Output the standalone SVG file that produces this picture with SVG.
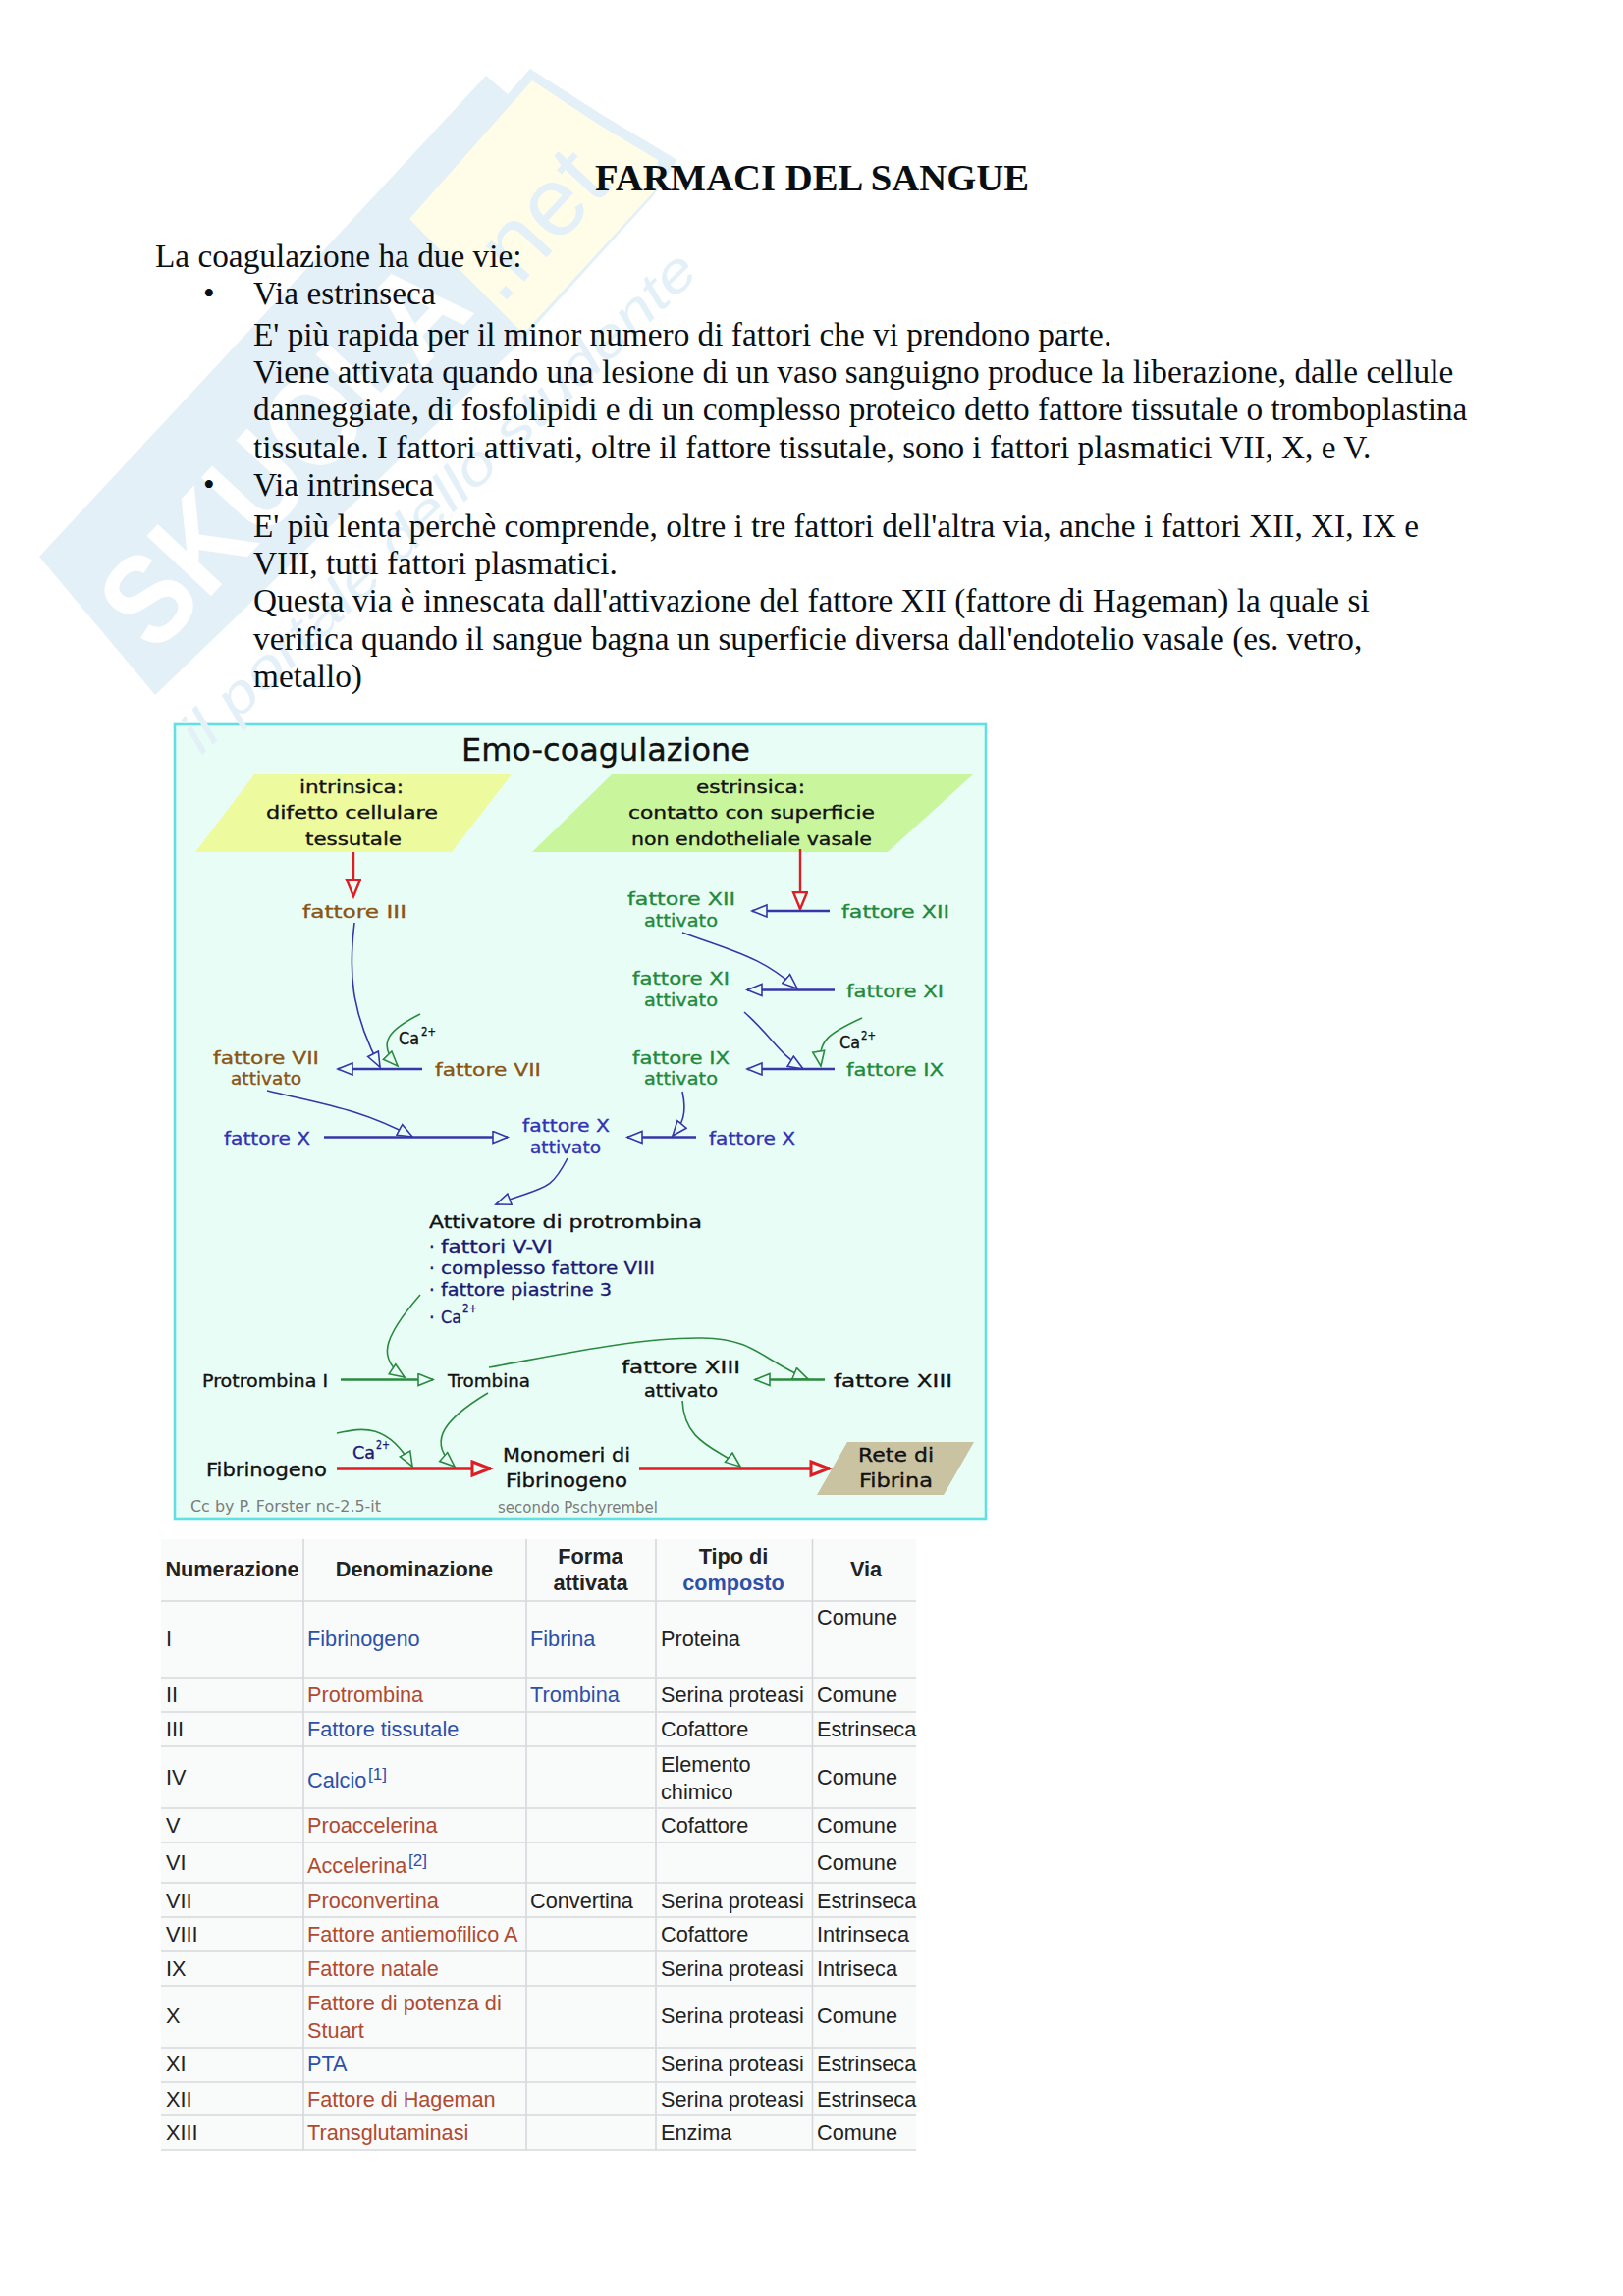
<svg xmlns="http://www.w3.org/2000/svg" width="1653" height="2339" viewBox="0 0 1653 2339">
<style>
.p{font-family:"Liberation Serif","Times New Roman",serif;font-size:33.3px;fill:#0a0f14}
.h{font-family:"Liberation Serif","Times New Roman",serif;font-size:38.9px;font-weight:700;fill:#0a0f14}
.d{font-family:"DejaVu Sans",sans-serif;font-size:18px;stroke-width:.35px}
.k{fill:#111;stroke:#111}.br{fill:#8a5514;stroke:#8a5514}.gr{fill:#1f8a3c;stroke:#1f8a3c}.bl{fill:#3232b4;stroke:#3232b4}.nv{fill:#1a1a72;stroke:#1a1a72}.gy{fill:#7c7c7c}
.bg{font-size:20px}
.sup{font-size:12px}
.t{font-family:"Liberation Sans",Arial,sans-serif;font-size:21.7px;fill:#222}
.th{font-weight:700;text-anchor:middle}
.lb{fill:#2d50a8}.lr{fill:#b04a30}
.c{fill:none;stroke-width:1.6}
.cb{stroke:#3636a8;marker-end:url(#mb)}
.cg{stroke:#2a8a40;marker-end:url(#mg)}
.s{stroke-width:2.6}
.cr{stroke:#e01c24;stroke-width:2.4;marker-end:url(#mr)}
.crb{stroke:#e01c24;stroke-width:3.4;marker-end:url(#mrb)}
.g{stroke:#d6d9dc;stroke-width:1.6;fill:none}
.w{font-family:"Liberation Sans",Arial,sans-serif}
</style>
<defs>
<marker id="mb" markerUnits="userSpaceOnUse" markerWidth="20" markerHeight="16" refX="16" refY="7" orient="auto"><path d="M1 1L16 7L1 13Z" fill="#e9fdf7" stroke="#3636a8" stroke-width="1.6"/></marker>
<marker id="mg" markerUnits="userSpaceOnUse" markerWidth="20" markerHeight="16" refX="16" refY="7" orient="auto"><path d="M1 1L16 7L1 13Z" fill="#e9fdf7" stroke="#2a8a40" stroke-width="1.6"/></marker>
<marker id="mr" markerUnits="userSpaceOnUse" markerWidth="22" markerHeight="20" refX="18" refY="8" orient="auto"><path d="M1 1L18 8L1 15Z" fill="#e9fdf7" stroke="#e01c24" stroke-width="2.4"/></marker>
<marker id="mrb" markerUnits="userSpaceOnUse" markerWidth="26" markerHeight="22" refX="21" refY="9" orient="auto"><path d="M2 2L20 9L2 16Z" fill="#e9fdf7" stroke="#e01c24" stroke-width="3"/></marker>
</defs>
<rect width="1653" height="2339" fill="#fff"/>
<g id="diagram-frame"><rect x="178" y="738" width="826" height="809" fill="#e9fdf7" stroke="#62dfe2" stroke-width="2.6"/></g>
<g id="watermark">
<path d="M40 567L495 77L517 96L540 70L615 118L690 163L665 200L527 352L158 708Z" fill="#e4f0f8"/>
<path d="M542 82L610 127L670 163L668 193L533 340L417 223Z" fill="#fffde8"/>
<text class="w" transform="translate(158 668) rotate(-47)" style="font-size:130px;font-weight:700" fill="#fff" textLength="480" lengthAdjust="spacingAndGlyphs">SKUOLA</text>
<text class="w" transform="translate(510 312) rotate(-47)" style="font-size:100px" fill="#e4f0f8">.net</text>
<text class="w" transform="translate(205 770) rotate(-44)" style="font-size:56px;font-style:italic" fill="#e4f0f8" textLength="707" lengthAdjust="spacingAndGlyphs">il portale dello studente</text>
</g>
<g id="page-text">
<text class="h" x="606" y="194" textLength="442" lengthAdjust="spacingAndGlyphs">FARMACI DEL SANGUE</text>
<text class="p" x="158" y="272">La coagulazione ha due vie:</text>
<text class="p" x="207" y="310">•</text>
<text class="p" x="258" y="310">Via estrinseca</text>
<text class="p" x="258" y="352">E' più rapida per il minor numero di fattori che vi prendono parte.</text>
<text class="p" x="258" y="390">Viene attivata quando una lesione di un vaso sanguigno produce la liberazione, dalle cellule</text>
<text class="p" x="258" y="428">danneggiate, di fosfolipidi e di un complesso proteico detto fattore tissutale o tromboplastina</text>
<text class="p" x="258" y="467">tissutale. I fattori attivati, oltre il fattore tissutale, sono i fattori plasmatici VII, X, e V.</text>
<text class="p" x="207" y="505">•</text>
<text class="p" x="258" y="505">Via intrinseca</text>
<text class="p" x="258" y="547">E' più lenta perchè comprende, oltre i tre fattori dell'altra via, anche i fattori XII, XI, IX e</text>
<text class="p" x="258" y="585">VIII, tutti fattori plasmatici.</text>
<text class="p" x="258" y="623">Questa via è innescata dall'attivazione del fattore XII (fattore di Hageman) la quale si</text>
<text class="p" x="258" y="662">verifica quando il sangue bagna un superficie diversa dall'endotelio vasale (es. vetro,</text>
<text class="p" x="258" y="700">metallo)</text>
</g>
<g id="shapes">
<path id="box-intrinsica" d="M259 789H521L460 868H199Z" fill="#edfa9e"/>
<path id="box-estrinsica" d="M623 789H991L904 868H542Z" fill="#c9f59c"/>
<path id="box-rete" d="M863 1469H992L961 1523H832Z" fill="#c9c3a2"/>
</g>
<g id="connectors">
<path class="c cr" d="M360 868V913"/>
<path class="c cr" d="M815 865V926"/>
<path class="c cb" d="M361 940C355 990 357 1030 387 1087"/>
<path class="c cg" d="M428 1033C398 1048 382 1062 405 1086"/>
<path class="c cb s" d="M430 1089H344"/>
<path class="c cb" d="M272 1111C330 1125 368 1130 420 1158"/>
<path class="c cb s" d="M330 1158.500H517"/>
<path class="c cb s" d="M709 1158.500H639"/>
<path class="c cb" d="M695 1112C700 1135 695 1145 685 1157"/>
<path class="c cb s" d="M845 928H766"/>
<path class="c cb" d="M695 950C755 972 775 975 812 1007"/>
<path class="c cb s" d="M850 1008.500H761"/>
<path class="c cb" d="M758 1031C785 1055 795 1075 818 1089"/>
<path class="c cb s" d="M850 1089H761"/>
<path class="c cg" d="M878 1037C845 1052 832 1060 836 1086"/>
<path class="c cb" d="M578 1180C560 1215 555 1208 505 1227"/>
<path class="c cg" d="M428 1319C388 1365 385 1385 412 1403"/>
<path class="c cg s" d="M347 1405.500H441"/>
<path class="c cg" d="M498 1393C560 1382 650 1362 715 1363C770 1364 775 1385 823 1405"/>
<path class="c cg s" d="M840 1405.500H769"/>
<path class="c cg" d="M497 1419C445 1450 438 1472 463 1494"/>
<path class="c cg" d="M343 1460C370 1454 395 1450 420 1494"/>
<path class="c crb" d="M343 1496H500"/>
<path class="c crb" d="M651 1496H845"/>
<path class="c cg" d="M695 1427C697 1470 730 1475 754 1494"/>
</g>
<g id="nodes" transform="translate(0 1)">
<g id="n-title"><text class="d k" style="font-size:32px" x="470" y="774" textLength="294" lengthAdjust="spacingAndGlyphs">Emo-coagulazione</text></g>
<g id="n-intrinsica">
<text class="d k" x="305" y="807" textLength="106" lengthAdjust="spacingAndGlyphs">intrinsica:</text>
<text class="d k" x="271" y="833" textLength="175" lengthAdjust="spacingAndGlyphs">difetto cellulare</text>
<text class="d k" x="311" y="860" textLength="98" lengthAdjust="spacingAndGlyphs">tessutale</text>
</g>
<g id="n-estrinsica">
<text class="d k" x="709" y="807" textLength="111" lengthAdjust="spacingAndGlyphs">estrinsica:</text>
<text class="d k" x="640" y="833" textLength="251" lengthAdjust="spacingAndGlyphs">contatto con superficie</text>
<text class="d k" x="643" y="860" textLength="245" lengthAdjust="spacingAndGlyphs">non endotheliale vasale</text>
</g>
<g id="n-f3"><text class="d br" x="308" y="934" textLength="106" lengthAdjust="spacingAndGlyphs">fattore III</text></g>
<g id="n-f7a"><text class="d br" x="217" y="1083" textLength="108" lengthAdjust="spacingAndGlyphs">fattore VII</text><text class="d br" x="235" y="1104" textLength="72" lengthAdjust="spacingAndGlyphs">attivato</text></g>
<g id="n-f7"><text class="d br" x="443" y="1095" textLength="108" lengthAdjust="spacingAndGlyphs">fattore VII</text></g>
<g id="n-ca1"><text class="d k" x="406" y="1063" textLength="21" lengthAdjust="spacingAndGlyphs">Ca</text><text class="d k sup" x="429" y="1054" textLength="15" lengthAdjust="spacingAndGlyphs">2+</text></g>
<g id="n-f10l"><text class="d bl" x="228" y="1165" textLength="88" lengthAdjust="spacingAndGlyphs">fattore X</text></g>
<g id="n-f10a"><text class="d bl" x="532" y="1152" textLength="89" lengthAdjust="spacingAndGlyphs">fattore X</text><text class="d bl" x="540" y="1174" textLength="72" lengthAdjust="spacingAndGlyphs">attivato</text></g>
<g id="n-f10r"><text class="d bl" x="722" y="1165" textLength="88" lengthAdjust="spacingAndGlyphs">fattore X</text></g>
<g id="n-f12a"><text class="d gr" x="639" y="921" textLength="110" lengthAdjust="spacingAndGlyphs">fattore XII</text><text class="d gr" x="656" y="943" textLength="75" lengthAdjust="spacingAndGlyphs">attivato</text></g>
<g id="n-f12"><text class="d gr" x="857" y="934" textLength="110" lengthAdjust="spacingAndGlyphs">fattore XII</text></g>
<g id="n-f11a"><text class="d gr" x="644" y="1002" textLength="99" lengthAdjust="spacingAndGlyphs">fattore XI</text><text class="d gr" x="656" y="1024" textLength="75" lengthAdjust="spacingAndGlyphs">attivato</text></g>
<g id="n-f11"><text class="d gr" x="862" y="1015" textLength="99" lengthAdjust="spacingAndGlyphs">fattore XI</text></g>
<g id="n-ca2"><text class="d k" x="855" y="1067" textLength="21" lengthAdjust="spacingAndGlyphs">Ca</text><text class="d k sup" x="877" y="1058" textLength="15" lengthAdjust="spacingAndGlyphs">2+</text></g>
<g id="n-f9a"><text class="d gr" x="644" y="1083" textLength="99" lengthAdjust="spacingAndGlyphs">fattore IX</text><text class="d gr" x="656" y="1104" textLength="75" lengthAdjust="spacingAndGlyphs">attivato</text></g>
<g id="n-f9"><text class="d gr" x="862" y="1095" textLength="99" lengthAdjust="spacingAndGlyphs">fattore IX</text></g>
<g id="n-attivatore">
<text class="d k" x="437" y="1250" textLength="278" lengthAdjust="spacingAndGlyphs">Attivatore di protrombina</text>
<text class="d nv" x="437" y="1275">·</text><text class="d nv" x="449" y="1275" textLength="114" lengthAdjust="spacingAndGlyphs">fattori V-VI</text>
<text class="d nv" x="437" y="1297">·</text><text class="d nv" x="449" y="1297" textLength="218" lengthAdjust="spacingAndGlyphs">complesso fattore VIII</text>
<text class="d nv" x="437" y="1319">·</text><text class="d nv" x="449" y="1319" textLength="174" lengthAdjust="spacingAndGlyphs">fattore piastrine 3</text>
<text class="d nv" x="437" y="1347">·</text><text class="d nv" x="449" y="1347" textLength="21" lengthAdjust="spacingAndGlyphs">Ca</text><text class="d nv sup" x="471" y="1336" textLength="15" lengthAdjust="spacingAndGlyphs">2+</text>
</g>
<g id="n-protrombina"><text class="d k" x="206" y="1412" textLength="128" lengthAdjust="spacingAndGlyphs">Protrombina I</text></g>
<g id="n-trombina"><text class="d k" x="456" y="1412" textLength="84" lengthAdjust="spacingAndGlyphs">Trombina</text></g>
<g id="n-f13a"><text class="d k" x="633" y="1398" textLength="121" lengthAdjust="spacingAndGlyphs">fattore XIII</text><text class="d k" x="656" y="1422" textLength="75" lengthAdjust="spacingAndGlyphs">attivato</text></g>
<g id="n-f13"><text class="d k" x="849" y="1412" textLength="121" lengthAdjust="spacingAndGlyphs">fattore XIII</text></g>
<g id="n-ca3"><text class="d nv" x="359" y="1485" textLength="23" lengthAdjust="spacingAndGlyphs">Ca</text><text class="d nv sup" x="383" y="1475" textLength="14" lengthAdjust="spacingAndGlyphs">2+</text></g>
<g id="n-fibrinogeno"><text class="d bg k" x="210" y="1503" textLength="123" lengthAdjust="spacingAndGlyphs">Fibrinogeno</text></g>
<g id="n-monomeri"><text class="d bg k" x="512" y="1488" textLength="130" lengthAdjust="spacingAndGlyphs">Monomeri di</text><text class="d bg k" x="515" y="1514" textLength="124" lengthAdjust="spacingAndGlyphs">Fibrinogeno</text></g>
<g id="n-rete"><text class="d bg k" x="874" y="1488" textLength="77" lengthAdjust="spacingAndGlyphs">Rete di</text><text class="d bg k" x="875" y="1514" textLength="75" lengthAdjust="spacingAndGlyphs">Fibrina</text></g>
<g id="n-credit"><text class="d gy" style="font-size:15px" x="194" y="1539" textLength="194" lengthAdjust="spacingAndGlyphs">Cc by P. Forster nc-2.5-it</text><text class="d gy" style="font-size:15px" x="507" y="1540" textLength="163" lengthAdjust="spacingAndGlyphs">secondo Pschyrembel</text></g>
</g>
<g id="table">
<rect x="164" y="1568" width="769" height="622" fill="#f9fafa"/>
<path class="g" d="M309 1568V2190M536 1568V2190M668 1568V2190M827.500 1568V2190"/>
<path class="g" d="M164 1631H933M164 1709H933M164 1744H933M164 1779H933M164 1842H933M164 1877H933M164 1918H933M164 1953H933M164 1988H933M164 2023H933M164 2086H933M164 2121H933M164 2155H933M164 2190H933"/>
<g transform="translate(0 1)">
<text class="t th" x="236.500" y="1605">Numerazione</text>
<text class="t th" x="422" y="1605">Denominazione</text>
<text class="t th" x="601.500" y="1592">Forma</text><text class="t th" x="601.500" y="1619">attivata</text>
<text class="t th" x="747" y="1592">Tipo di</text><text class="t th lb" x="747" y="1619">composto</text>
<text class="t th" x="882" y="1605">Via</text>
<text class="t" x="169" y="1676">I</text><text class="t lb" x="313" y="1676">Fibrinogeno</text><text class="t lb" x="540" y="1676">Fibrina</text><text class="t" x="673" y="1676">Proteina</text><text class="t" x="832" y="1654">Comune</text>
<text class="t" x="169" y="1733">II</text><text class="t lr" x="313" y="1733">Protrombina</text><text class="t lb" x="540" y="1733">Trombina</text><text class="t" x="673" y="1733">Serina proteasi</text><text class="t" x="832" y="1733">Comune</text>
<text class="t" x="169" y="1768">III</text><text class="t lb" x="313" y="1768">Fattore tissutale</text><text class="t" x="673" y="1768">Cofattore</text><text class="t" x="832" y="1768">Estrinseca</text>
<text class="t" x="169" y="1817">IV</text><text class="t lb" x="313" y="1820">Calcio</text><text class="t lb" style="font-size:17px" x="375" y="1812">[1]</text><text class="t" x="673" y="1804">Elemento</text><text class="t" x="673" y="1832">chimico</text><text class="t" x="832" y="1817">Comune</text>
<text class="t" x="169" y="1866">V</text><text class="t lr" x="313" y="1866">Proaccelerina</text><text class="t" x="673" y="1866">Cofattore</text><text class="t" x="832" y="1866">Comune</text>
<text class="t" x="169" y="1904">VI</text><text class="t lr" x="313" y="1907">Accelerina</text><text class="t lb" style="font-size:17px" x="416" y="1900">[2]</text><text class="t" x="832" y="1904">Comune</text>
<text class="t" x="169" y="1943">VII</text><text class="t lr" x="313" y="1943">Proconvertina</text><text class="t" x="540" y="1943">Convertina</text><text class="t" x="673" y="1943">Serina proteasi</text><text class="t" x="832" y="1943">Estrinseca</text>
<text class="t" x="169" y="1977">VIII</text><text class="t lr" x="313" y="1977">Fattore antiemofilico A</text><text class="t" x="673" y="1977">Cofattore</text><text class="t" x="832" y="1977">Intrinseca</text>
<text class="t" x="169" y="2012">IX</text><text class="t lr" x="313" y="2012">Fattore natale</text><text class="t" x="673" y="2012">Serina proteasi</text><text class="t" x="832" y="2012">Intriseca</text>
<text class="t" x="169" y="2060">X</text><text class="t lr" x="313" y="2047">Fattore di potenza di</text><text class="t lr" x="313" y="2075">Stuart</text><text class="t" x="673" y="2060">Serina proteasi</text><text class="t" x="832" y="2060">Comune</text>
<text class="t" x="169" y="2109">XI</text><text class="t lb" x="313" y="2109">PTA</text><text class="t" x="673" y="2109">Serina proteasi</text><text class="t" x="832" y="2109">Estrinseca</text>
<text class="t" x="169" y="2145">XII</text><text class="t lr" x="313" y="2145">Fattore di Hageman</text><text class="t" x="673" y="2145">Serina proteasi</text><text class="t" x="832" y="2145">Estrinseca</text>
<text class="t" x="169" y="2179">XIII</text><text class="t lr" x="313" y="2179">Transglutaminasi</text><text class="t" x="673" y="2179">Enzima</text><text class="t" x="832" y="2179">Comune</text>
</g>
</g>
</svg>
